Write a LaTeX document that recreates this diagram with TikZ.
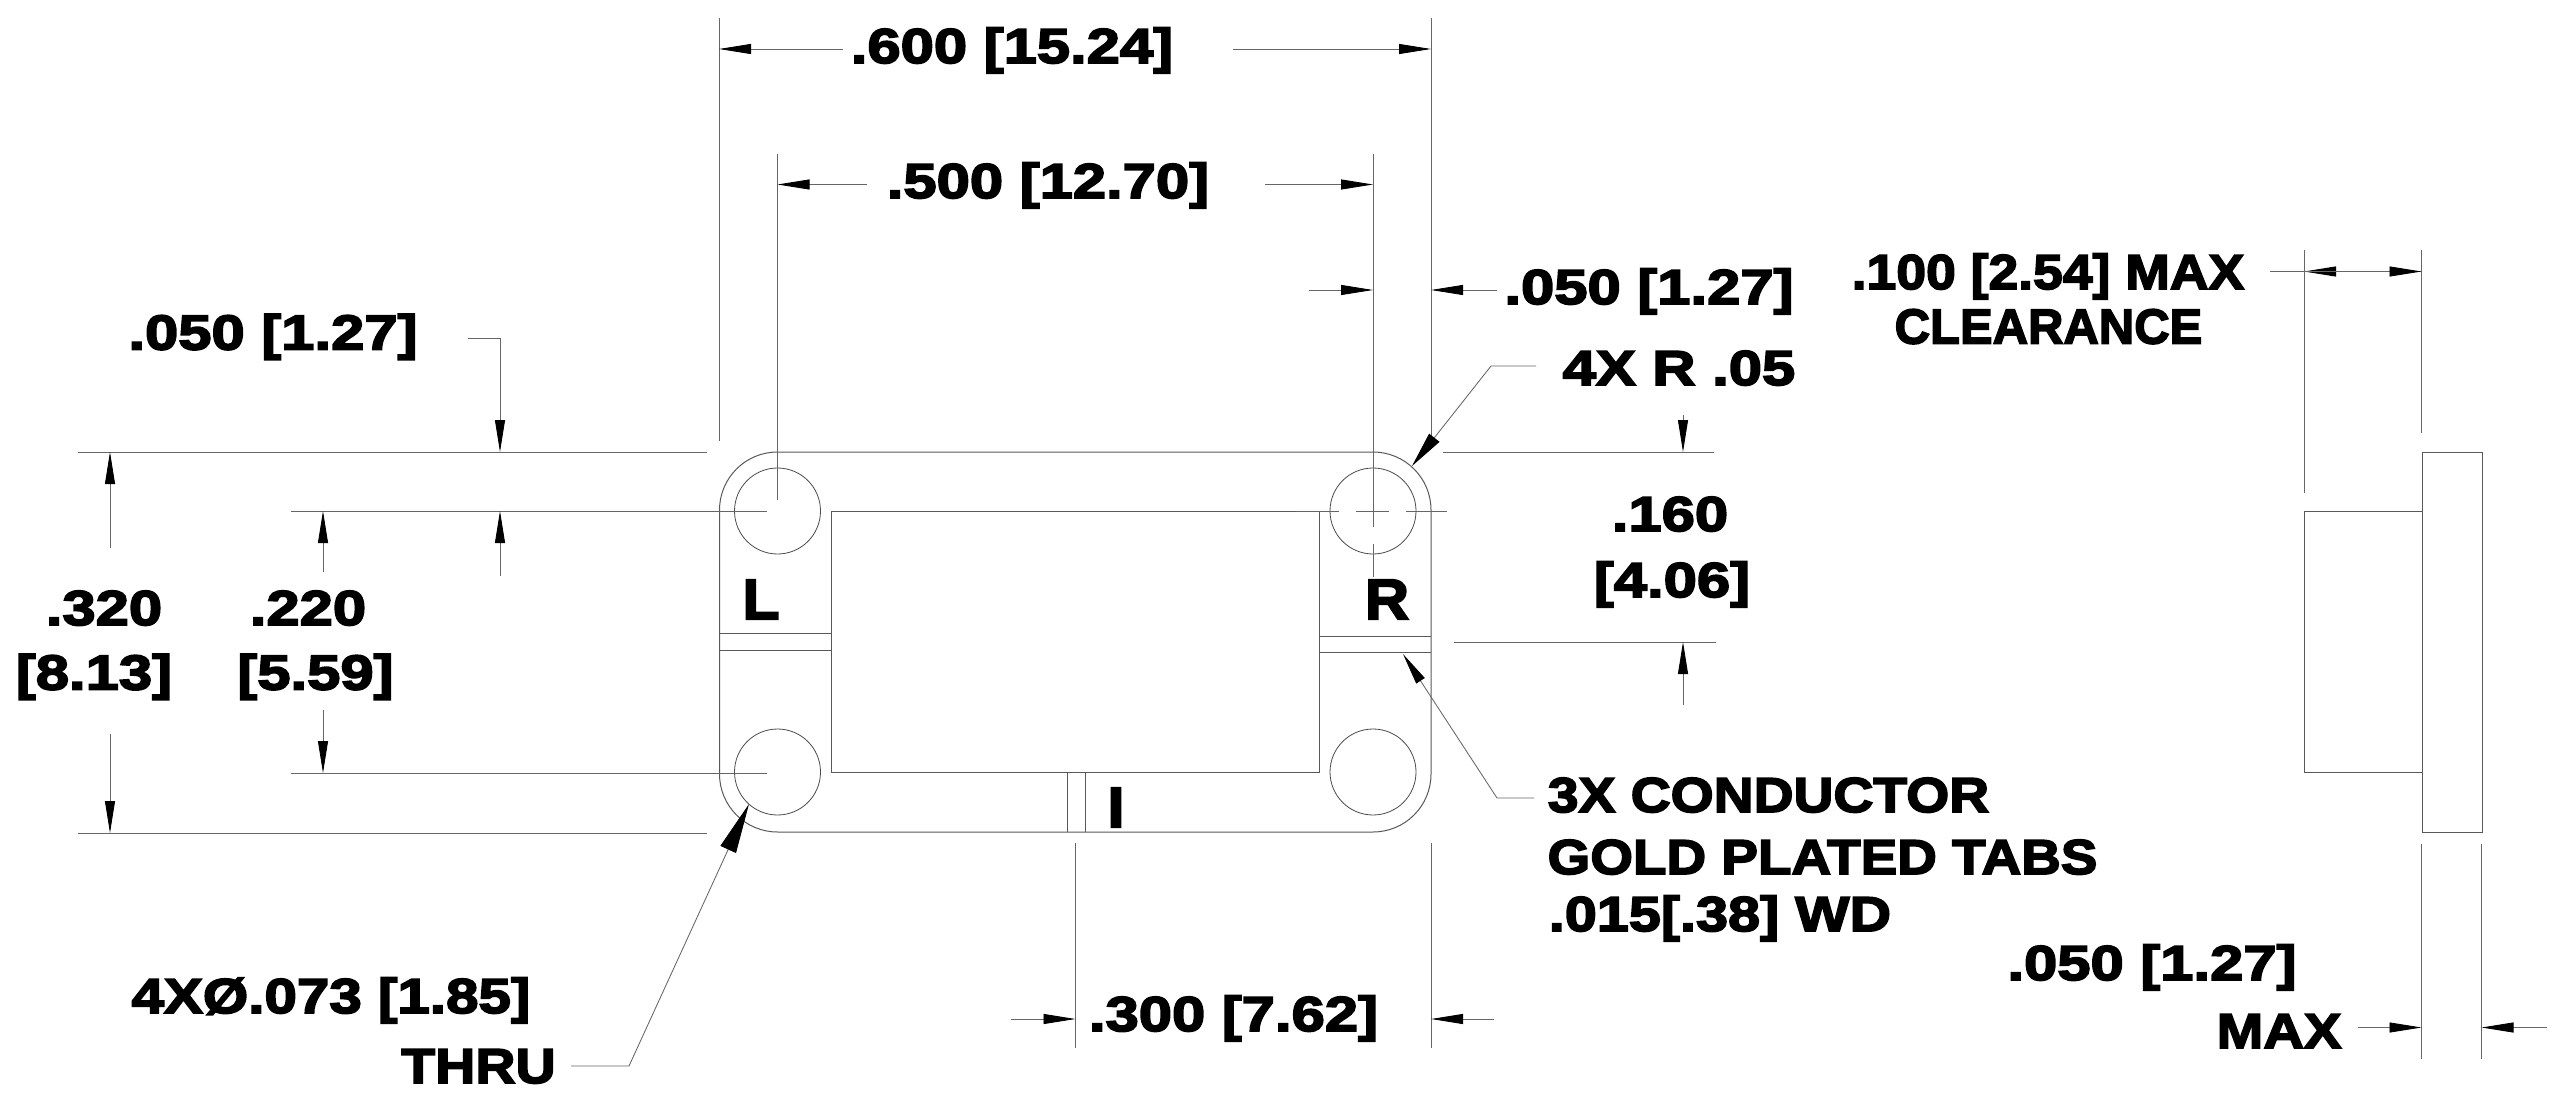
\documentclass[tikz,border=0pt]{standalone}
\usepackage{fontspec}
\usepackage{graphicx}
\usetikzlibrary{arrows.meta}
\newfontfamily\dimfont[UprightFont=* Bold,FakeStretch=1.22,FakeBold=3.6]{Liberation Sans}
\newcommand{\sx}[2]{\scalebox{#1}[1]{#2}}
\tikzset{
  part/.style={draw=black!65,line width=1pt},
  ext/.style={draw=black!60,line width=0.85pt},
  dim/.style={draw=black!60,line width=0.85pt,-{Triangle[length=32pt,width=10pt,color=black]}},
  bigdim/.style={draw=black!60,line width=0.85pt,-{Triangle[length=50pt,width=17pt,color=black]}},
  meddim/.style={draw=black!60,line width=0.85pt,-{Triangle[length=36pt,width=13pt,color=black]}},
  label/.style={anchor=base,inner sep=0pt,outer sep=0pt,text=black,font=\dimfont\fontsize{49}{49}\selectfont},
  tag/.style={label,font=\dimfont\fontsize{57}{57}\selectfont},
  hole/.style={circle,draw=black!70,line width=0.8pt,minimum size=86pt,inner sep=0pt,outer sep=0pt}
}
\begin{document}
\begin{tikzpicture}[x=1pt,y=-1pt]
\useasboundingbox (0,0) rectangle (2560,1102);
\fill[white] (0,0) rectangle (2560,1102);
% key coordinates
\coordinate (hTL) at (777.5,511);
\coordinate (hTR) at (1373,511);
\coordinate (hBL) at (777.5,772);
\coordinate (hBR) at (1373,772);
% body
\draw[part,rounded corners=58pt] (719.5,452) rectangle (1431,832);
\draw[part] (831.5,511) rectangle (1319,772);
\node[hole] (holeTL) at (hTL) {};
\node[hole] (holeTR) at (hTR) {};
\node[hole] (holeBL) at (hBL) {};
\node[hole] (holeBR) at (hBR) {};
% tabs
\draw[part] (719.5,633.5) -- (831.5,633.5) (719.5,650.5) -- (831.5,650.5);
\draw[part] (1319,636) -- (1431,636) (1319,652.5) -- (1431,652.5);
\draw[part] (1067,772) -- (1067,832) (1085,772) -- (1085,832);
\node[tag] (tagL) at (761,619) {\sx{0.88}{L}};
\node[tag] (tagR) at (1387,619) {\sx{0.88}{R}};
\node[tag] (tagI) at (1116,827) {\sx{0.88}{I}};
% centre lines of the upper right hole
\draw[ext] (1296,511) -- (1339,511) (1356,511) -- (1389,511) (1406,511) -- (1447,511);
% extension lines
\draw[ext] (719,18) -- (719,441);
\draw[ext] (1431,18) -- (1431,438);
\draw[ext] (777.5,154) -- (777.5,500);
\draw[ext] (1373,154) -- (1373,527) (1373,544) -- (1373,577);
\draw[ext] (78,452) -- (707,452);
\draw[ext] (78,833) -- (707,833);
\draw[ext] (291,511) -- (767,511);
\draw[ext] (291,773) -- (767,773);
\draw[ext] (1443,452) -- (1714,452);
\draw[ext] (1454,642) -- (1716,642);
\draw[ext] (1075.5,843) -- (1075.5,1048);
\draw[ext] (1431,843) -- (1431,1048);
% .600
\node[label] (d600) at (1012,63) {.600 [15.24]};
\draw[dim] (843,49) -- (719,49);
\draw[dim] (1233,49) -- (1431,49);
% .500
\node[label] (d500) at (1048,198) {.500 [12.70]};
\draw[dim] (867,184.5) -- (777.5,184.5);
\draw[dim] (1265,184.5) -- (1373,184.5);
% .050 right
\node[label] (d050r) at (1649,304) {.050 [1.27]};
\draw[dim] (1309,290) -- (1373,290);
\draw[dim] (1497,290) -- (1431,290);
% 4X R .05
\node[label] (dR) at (1679,385) {4X R .05};
\draw[meddim] (1536,366) -- (1491,366) -- (1412,466);
% .160
\node[label] (d160a) at (1670,531) {.160};
\node[label] (d160b) at (1672,597) {[4.06]};
\draw[dim] (1683,415) -- (1683,452);
\draw[dim] (1683,705) -- (1683,642);
% .050 left
\node[label] (d050l) at (273,349.5) {.050 [1.27]};
\draw[dim] (468,338) -- (500,338) -- (500,452);
\draw[dim] (500,576) -- (500,511);
% .320
\node[label] (d320a) at (104,625) {.320};
\node[label] (d320b) at (94,689.5) {[8.13]};
\draw[dim] (110,548) -- (110,452);
\draw[dim] (110,733.5) -- (110,833);
% .220
\node[label] (d220a) at (308,625) {.220};
\node[label] (d220b) at (315.5,689.5) {[5.59]};
\draw[dim] (323,572) -- (323,511);
\draw[dim] (323,710) -- (323,773);
% hole callout
\node[label] (dHole) at (331,1013) {\sx{0.976}{4XØ.073 [1.85]}};
\node[label] (dThru) at (478.5,1083) {\sx{0.93}{THRU}};
\draw[bigdim] (571,1066) -- (629,1066) -- (749,804);
% conductor callout
\node[label] (dCa) at (1768.5,812) {\sx{0.925}{3X CONDUCTOR}};
\node[label] (dCb) at (1822.5,874) {\sx{0.918}{GOLD PLATED TABS}};
\node[label] (dCc) at (1720,931) {\sx{0.963}{.015[.38] WD}};
\draw[dim] (1534,798) -- (1497,798) -- (1403,654);
% .300
\node[label] (d300) at (1233.5,1031) {.300 [7.62]};
\draw[dim] (1011,1019) -- (1075.5,1019);
\draw[dim] (1494,1019) -- (1431,1019);
% side view
\draw[part] (2422.5,452) rectangle (2482.5,832);
\draw[part] (2422.5,511) -- (2304,511) -- (2304,772) -- (2422.5,772);
\draw[ext] (2304,250) -- (2304,493);
\draw[ext] (2421.5,250) -- (2421.5,433);
\draw[ext] (2421.5,844) -- (2421.5,1059);
\draw[ext] (2481.5,844) -- (2481.5,1059);
% .100
\node[label] (d100) at (2048,289) {\sx{0.895}{.100 [2.54] MAX}};
\node[label] (dClr) at (2048.5,343.5) {\sx{0.82}{CLEARANCE}};
\draw[dim] (2421.5,271.5) -- (2304,271.5);
\draw[dim] (2304,271.5) -- (2421.5,271.5);
\draw[ext] (2270,271.5) -- (2304,271.5);
% .050 side
\node[label] (d050s) at (2152,980) {.050 [1.27]};
\node[label] (dMax) at (2279,1048) {\sx{0.94}{MAX}};
\draw[dim] (2357.5,1027.5) -- (2421.5,1027.5);
\draw[dim] (2546.5,1027.5) -- (2481.5,1027.5);
\end{tikzpicture}
\end{document}
